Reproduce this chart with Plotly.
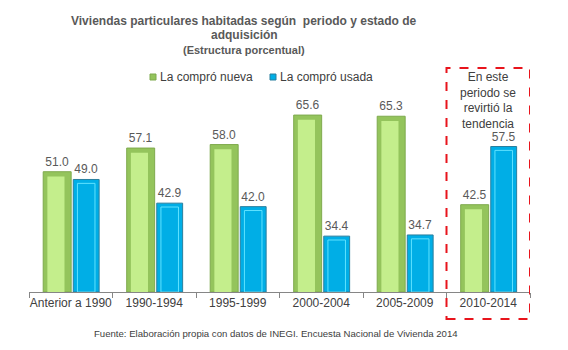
import plotly.graph_objects as go

categories = ["Anterior a 1990", "1990-1994", "1995-1999", "2000-2004", "2005-2009", "2010-2014"]
nueva = [51.0, 57.1, 58.0, 65.6, 65.3, 42.5]
usada = [49.0, 42.9, 42.0, 34.4, 34.7, 57.5]
series_names = ["La compró nueva", "La compró usada"]
title_lines = ["Viviendas particulares habitadas según  periodo y estado de", "adquisición"]
subtitle = "(Estructura porcentual)"
note = "En este<br>periodo se<br>revirtió la<br>tendencia"
source = "Fuente: Elaboración propia con datos de INEGI. Encuesta Nacional de Vivienda 2014"

FONT = "Liberation Sans, Arial, sans-serif"
BASE = 20
GREEN, GREEN_LINE, GREEN_HI = "#94c45c", "#7faa4e", "#c4ee8c"
BLUE, BLUE_LINE, BLUE_HI = "#00aee6", "#2a7f9e", "#5fe2ff"

# plot area in pixels
L, R, T, B = 29, 530, 98, 292
W, H = R - L, B - T


def px(x):
    return (x - L) / W


def py(y):
    return (B - y) / H


fig = go.Figure()

fig.add_trace(go.Bar(
    x=categories, y=[v - BASE for v in nueva], base=BASE, name=series_names[0],
    offset=-0.33, width=0.335, showlegend=False,
    marker=dict(color=GREEN, line=dict(color=GREEN_LINE, width=1)),
    text=[f"{v:.1f}" for v in nueva], textposition="outside",
    textfont=dict(family=FONT, size=12, color="#595959"), cliponaxis=False,
))
fig.add_trace(go.Bar(
    x=categories, y=[v - BASE for v in usada], base=BASE, name=series_names[1],
    offset=0.03, width=0.31, showlegend=False,
    marker=dict(color=BLUE, line=dict(color=BLUE_LINE, width=1)),
    text=[f"{v:.1f}" for v in usada], textposition="outside",
    textfont=dict(family=FONT, size=12, color="#595959"), cliponaxis=False,
))
# inner highlights (bevel effect)
fig.add_trace(go.Bar(
    x=categories, y=[v - BASE - 1.2 for v in nueva], base=BASE, showlegend=False,
    offset=-0.33 + 0.05, width=0.335 - 0.13, hoverinfo="skip",
    marker=dict(color=GREEN_HI, line=dict(width=0)),
))
fig.add_trace(go.Bar(
    x=categories, y=[v - BASE - 1.0 for v in usada], base=BASE, showlegend=False,
    offset=0.03 + 0.05, width=0.31 - 0.10, hoverinfo="skip",
    marker=dict(color="rgba(0,0,0,0)", line=dict(color=BLUE_HI, width=1)),
))

fig.update_layout(
    width=568, height=350,
    margin=dict(l=L, r=568 - R, t=T, b=350 - B, autoexpand=False),
    paper_bgcolor="white", plot_bgcolor="white",
    barmode="overlay",
    showlegend=False,
    font=dict(family=FONT),
)
fig.update_xaxes(
    type="category", range=[-0.5, 5.5], showline=True, linecolor="#868686", linewidth=1,
    ticks="outside", tickson="boundaries", ticklen=5, tickcolor="#868686", tickangle=0,
    tickfont=dict(family=FONT, size=12, color="#404040"), showgrid=False,
)
fig.update_yaxes(range=[BASE, 70], visible=False, showgrid=False)

# titles
fig.add_annotation(xref="paper", yref="paper", x=px(244), y=py(21),
                   text="<b>" + title_lines[0] + "</b>", showarrow=False,
                   font=dict(family=FONT, size=12, color="#595959"), xanchor="center", yanchor="middle")
fig.add_annotation(xref="paper", yref="paper", x=px(244), y=py(35),
                   text="<b>" + title_lines[1] + "</b>", showarrow=False,
                   font=dict(family=FONT, size=12, color="#595959"), xanchor="center", yanchor="middle")
fig.add_annotation(xref="paper", yref="paper", x=px(244), y=py(50),
                   text="<b>" + subtitle + "</b>", showarrow=False,
                   font=dict(family=FONT, size=11, color="#595959"), xanchor="center", yanchor="middle")

# custom legend
for i, (name, col, lc) in enumerate([(series_names[0], GREEN, GREEN_LINE), (series_names[1], BLUE, BLUE_LINE)]):
    x0 = 150 + i * 120
    fig.add_shape(type="rect", xref="paper", yref="paper", x0=px(x0), x1=px(x0 + 6),
                  y0=py(80), y1=py(74), fillcolor=col, line=dict(color=lc, width=1))
    fig.add_annotation(xref="paper", yref="paper", x=px(x0 + 8), y=py(77), text=name,
                       showarrow=False, xanchor="left", yanchor="middle",
                       font=dict(family=FONT, size=12, color="#404040"))

fig.add_annotation(xref="x", yref="paper", x=5, y=py(100),
                   text=note, showarrow=False,
                   font=dict(family=FONT, size=12, color="#404040"), xanchor="center", yanchor="middle")
fig.add_annotation(xref="paper", yref="paper", x=px(276), y=py(333),
                   text=source, showarrow=False,
                   font=dict(family=FONT, size=9.6, color="#404040"), xanchor="center", yanchor="middle")
fig.add_shape(type="rect", xref="x", yref="paper", x0=4.5, x1=5.5,
              y0=py(319), y1=py(68),
              line=dict(color="#e8141c", width=2, dash="dash"))

fig.write_html("out.html")
